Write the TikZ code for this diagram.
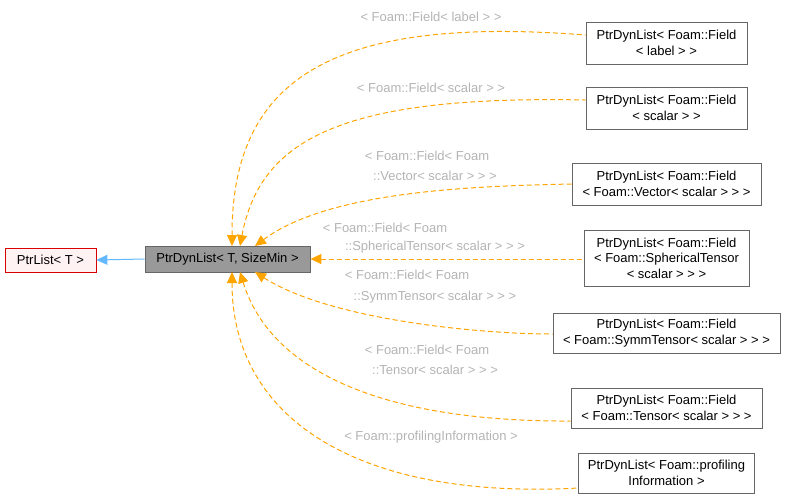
\documentclass[tikz,border=0pt]{standalone}
\usepackage{fontspec}
\setmainfont{Liberation Sans}
\usetikzlibrary{arrows.meta}
\definecolor{og}{HTML}{FFA500}
\definecolor{lb}{HTML}{B4B4B4}
\definecolor{bl}{HTML}{63B8FF}
\begin{document}
\begin{tikzpicture}[x=1pt,y=-1pt,line width=1pt,
 box/.style={draw=black!60,line width=0.8pt,fill=white,align=center,font=\fontsize{13}{15.5}\selectfont,inner sep=0pt,minimum height=#1},
 dep/.style={draw=og,dash pattern=on 5pt off 3pt,{Triangle[width=10pt,length=11pt,fill=og]}-},
 lbl/.style={text=lb,font=\fontsize{13}{15}\selectfont,inner sep=0pt}]
\useasboundingbox (0,0) rectangle (786,499);
\node[box=24,draw=red!85!black,fill=red!5,minimum width=91] (pl) at (50.5,260) {PtrList< T >};
\node[box=26,draw=black!60,fill=black!40,minimum width=165] (pd) at (227.5,259) {PtrDynList< T, SizeMin >};
\node[box=42,minimum width=161] (n1) at (666.5,43) {PtrDynList< Foam::Field\\< label > >};
\node[box=42,minimum width=161] (n2) at (666.5,108) {PtrDynList< Foam::Field\\< scalar > >};
\node[box=42,minimum width=189] (n3) at (666.5,184) {PtrDynList< Foam::Field\\< Foam::Vector< scalar > > >};
\node[box=56,minimum width=165] (n4) at (666.5,258) {PtrDynList< Foam::Field\\< Foam::SphericalTensor\\< scalar > > >};
\node[box=40,minimum width=227] (n5) at (666.5,333) {PtrDynList< Foam::Field\\< Foam::SymmTensor< scalar > > >};
\node[box=40,minimum width=191] (n6) at (666.5,408) {PtrDynList< Foam::Field\\< Foam::Tensor< scalar > > >};
\node[box=40,minimum width=176] (n7) at (666.5,473) {PtrDynList< Foam::profiling\\Information >};
\draw[draw=bl,-{Triangle[width=10pt,length=11pt]}] (pd.west) -- (pl.east);
\draw[dep] (232,246) .. controls (232,80) and (330,15) .. (n1.west|-0,35);
\draw[dep] (240,246) .. controls (260,140) and (340,95) .. (n2.west|-0,100);
\draw[dep] (255,246) .. controls (330,190) and (480,186) .. (n3.west|-0,184);
\draw[dep] (pd.east) -- (n4.west|-0,259);
\draw[dep] (255,272) .. controls (330,320) and (480,334) .. (n5.west|-0,334);
\draw[dep] (240,272) .. controls (270,370) and (380,422) .. (n6.west|-0,421);
\draw[dep] (232,272) .. controls (232,420) and (360,500) .. (n7.west|-0,488);
\node[lbl] at (431,17) {< Foam::Field< label > >};
\node[lbl] at (431,88) {< Foam::Field< scalar > >};
\node[lbl] at (427,156) {< Foam::Field< Foam};
\node[lbl] at (435,176) {::Vector< scalar > > >};
\node[lbl] at (385,228) {< Foam::Field< Foam};
\node[lbl] at (435,247) {::SphericalTensor< scalar > > >};
\node[lbl] at (407,275) {< Foam::Field< Foam};
\node[lbl] at (435,297) {::SymmTensor< scalar > > >};
\node[lbl] at (427,350) {< Foam::Field< Foam};
\node[lbl] at (435,370) {::Tensor< scalar > > >};
\node[lbl] at (431,437) {< Foam::profilingInformation >};
\end{tikzpicture}
\end{document}
